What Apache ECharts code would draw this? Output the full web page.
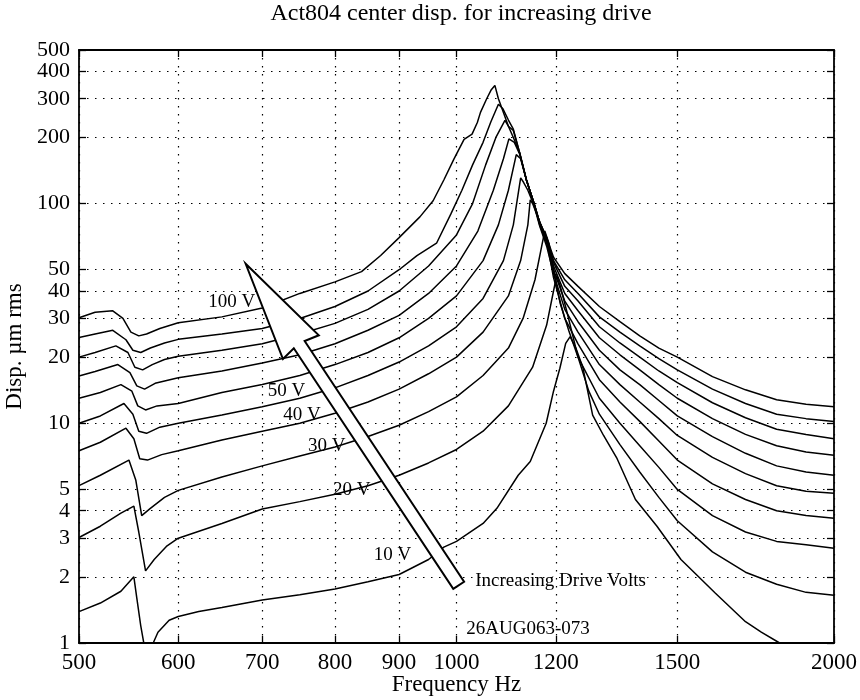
<!DOCTYPE html>
<html><head><meta charset="utf-8">
<script src="https://cdn.jsdelivr.net/npm/echarts@6/dist/echarts.min.js"></script>
<style>html,body{margin:0;padding:0;background:#fff}#c{width:860px;height:700px}</style>
</head><body><div id="c"></div>
<script>
const xTicks = [500,600,700,800,900,1000,1200,1500,2000];
const yTicks = [1,2,3,4,5,10,20,30,40,50,100,200,300,400,500];

const f100 = [500,515,532,542,550,558,566,580,600,650,700,750,800,840,870,900,935,958,977,995,1014,1029,1039,1045,1057,1066,1073,1080,1090,1100,1110,1123,1137,1153,1165,1180,1195,1220,1250,1300,1350,1400,1450,1500,1600,1700,1800,1900,2000];
const v100 = [30.2,32,32.5,30,26,25,25.5,27,28.7,30.5,33.5,39,44,49,58,70,87,103,128,159,196,207,234,260,300,330,345,300,260,225,200,170,128,100,82,70,57,48,42,34,29,25,22,20,16.3,14.2,12.8,12.2,11.9];

const f90 = [500,515,532,545,552,560,570,585,600,650,700,750,800,850,900,930,964,990,1010,1030,1050,1065,1080,1089,1100,1110,1123,1137,1153,1165,1180,1195,1220,1250,1300,1350,1400,1450,1500,1600,1700,1800,1900,2000];
const v90 = [24.6,25.5,26.5,24,21.5,21,22,23.2,24.1,25.5,27,30,34,40,50,58,66,90,115,150,190,235,283,270,240,218,170,128,100,82,70,55,45,39,30.5,26,22.5,19.7,17.5,14.3,12.3,11,10.5,10.2];

const f80 = [500,515,535,547,554,562,572,585,600,650,700,750,800,850,900,950,1000,1030,1055,1075,1093,1100,1110,1123,1137,1153,1165,1180,1195,1220,1250,1300,1350,1400,1450,1500,1600,1700,1800,1900,2000];
const v80 = [20,21,22.5,21,18,17.5,18.5,19.5,20.2,21.5,23,25.5,28.5,33,40,52,72,100,150,200,239,225,215,170,128,100,82,69,54,42,36,27.5,23.2,20,17.3,15.3,12.4,10.6,9.4,8.9,8.5];

const f70 = [500,515,537,549,556,564,575,600,650,700,750,800,850,900,950,1000,1040,1070,1090,1101,1112,1123,1137,1153,1165,1180,1195,1220,1250,1300,1350,1400,1450,1500,1600,1700,1800,1900,2000];
const v70 = [16.4,17.2,18.5,17,14.8,14.3,15.2,16.1,17.3,18.8,20.5,23,26.5,31,39,52,75,115,160,197,190,168,128,100,81,68,52,39,32.5,24.5,20.5,17.5,15,13,10.5,8.9,7.9,7.4,7.15];

const f60 = [500,520,540,551,557,565,577,600,650,700,750,800,850,900,950,1000,1050,1080,1100,1116,1125,1137,1153,1165,1180,1195,1220,1250,1300,1350,1400,1450,1500,1600,1700,1800,1900,2000];
const v60 = [13,13.8,15,14,12,11.5,12,12.3,13.8,15,16.5,18.5,21,24.5,30,38,55,80,115,167,160,128,100,80,66,50,36,29,21.5,17.5,15,12.7,10.8,8.7,7.3,6.4,6.0,5.8];

const f50 = [500,520,543,552,558,566,580,600,650,700,750,800,850,900,950,1000,1050,1090,1110,1125,1131,1140,1153,1165,1180,1195,1220,1250,1300,1350,1400,1450,1500,1600,1700,1800,1900,2000];
const v50 = [10,10.8,12.3,11,9.2,9,9.6,10,10.9,11.9,13,14.5,16.5,19,22.5,27.5,37,55,80,131,125,115,98,79,64,48,33,26,18.5,15,12.5,10.5,8.8,7.0,5.9,5.2,4.9,4.8];

const f40 = [500,520,545,553,559,567,582,600,650,700,750,800,850,900,950,1000,1050,1100,1125,1140,1145,1150,1160,1170,1180,1195,1220,1250,1300,1350,1400,1450,1500,1600,1700,1800,1900,2000];
const v40 = [7.5,8.2,9.5,8.5,6.9,6.8,7.2,7.5,8.4,9.2,10,11.1,12.5,14.3,16.8,20,26,38,55,80,104,100,88,78,68,46,30,23,15.8,12.5,10.2,8.3,6.8,5.3,4.5,4.0,3.8,3.7];

const f30 = [500,520,548,555,561,570,585,600,650,700,750,800,850,900,950,1000,1050,1100,1130,1155,1170,1176,1185,1195,1210,1230,1250,1300,1350,1400,1450,1500,1600,1700,1800,1900,2000];
const v30 = [5.2,5.8,6.8,5.5,3.8,4.1,4.6,4.95,5.7,6.4,7.1,7.8,8.7,9.8,11.3,13.2,16.5,22,30,45,65,75,66,50,35,26,20,13,10,7.9,6.3,5.0,3.8,3.2,2.9,2.8,2.7];

const f20 = [500,520,540,553,558,565,574,587,600,650,700,750,800,850,900,950,1000,1050,1100,1150,1180,1195,1202,1210,1225,1250,1275,1300,1350,1400,1450,1500,1600,1700,1800,1900,2000];
const v20 = [3.02,3.4,3.9,4.2,3.2,2.13,2.4,2.75,3.0,3.5,4.07,4.4,4.75,5.2,5.8,6.6,7.6,9.2,12,18,28,40,47,42,32,20,14,11,8,6,4.6,3.6,2.6,2.1,1.85,1.7,1.65];

const f10 = [500,520,540,553,556,560,565,570,573,578,590,600,623,650,700,750,800,850,900,950,977,1000,1050,1077,1120,1145,1179,1195,1209,1222,1232,1245,1261,1284,1310,1343,1389,1445,1510,1608,1700,1750,1810,1850];
const v10 = [1.39,1.52,1.72,2.0,1.6,1.2,0.9,0.9,1.0,1.12,1.27,1.32,1.39,1.45,1.57,1.66,1.76,1.9,2.05,2.4,2.73,2.9,3.5,4.1,5.8,6.7,10,14,17.8,23.1,24.8,22,18,10.9,8.8,6.9,4.5,3.4,2.4,1.69,1.25,1.12,1.0,0.9];

const curveFreqs = [f10,f20,f30,f40,f50,f60,f70,f80,f90,f100];
const curveVals  = [v10,v20,v30,v40,v50,v60,v70,v80,v90,v100];
const curveNames = ['10 V','20 V','30 V','40 V','50 V','60 V','70 V','80 V','90 V','100 V'];

const labelTexts = ['100 V','50 V','40 V','30 V','20 V','10 V'];
const labelFreqs = [662,732,753,788,825,889];
const labelVals  = [35.5,14.0,10.9,7.84,4.98,2.51];

const noteTexts = ['Increasing Drive Volts','26AUG063-073'];
const noteFreqs = [1035,1018];
const noteVals  = [1.92,1.16];

const arrowTail = [1004,1.83];
const arrowTip  = [679,53.2];

const FONT = 'Liberation Serif';
const chart = echarts.init(document.getElementById('c'), null, {renderer:'canvas'});

const series = curveNames.map((n,i)=>({
  name:n, type:'line', showSymbol:false, symbol:'none', clip:true, animation:false,
  lineStyle:{color:'#000', width:1.5},
  data: curveFreqs[i].map((f,j)=>[f, curveVals[i][j]])
}));

const axisCommon = {
  axisLine:{show:true, lineStyle:{color:'#000', width:1.8}},
};

chart.setOption({
  animation:false,
  backgroundColor:'#fff',
  title:{text:'Act804 center disp. for increasing drive', left:456, top:-3, textAlign:'center',
    textStyle:{fontFamily:FONT, fontSize:24, fontWeight:'normal', color:'#000'}},
  grid:{left:79, right:26, top:50, bottom:57, containLabel:false, outerBoundsMode:'none'},
  xAxis:[{
    type:'log', logBase:10, min:500, max:2000, position:'bottom',
    name:'Frequency Hz', nameLocation:'middle', nameGap:30, nameMoveOverlap:false,
    nameTextStyle:{fontFamily:FONT, fontSize:23, color:'#000'},
    ...axisCommon,
    axisTick:{show:true, inside:true, length:7, customValues:xTicks, lineStyle:{color:'#000', width:1.3}},
    axisLabel:{show:true, customValues:xTicks, formatter:v=>String(Math.round(v)), fontFamily:FONT, fontSize:23, lineHeight:16, color:'#000', margin:12, showMinLabel:true, showMaxLabel:true, hideOverlap:false},
    splitLine:{show:true, lineStyle:{color:'#000', width:1.2, type:[1.5,6.5]}},
    minorTick:{show:false}, minorSplitLine:{show:false}
  },{
    type:'log', logBase:10, min:500, max:2000, position:'top',
    ...axisCommon,
    axisTick:{show:true, inside:true, length:7, customValues:xTicks, lineStyle:{color:'#000', width:1.3}},
    axisLabel:{show:false}, splitLine:{show:false}
  }],
  yAxis:[{
    type:'log', logBase:10, min:1, max:500, position:'left',
    name:'Disp. \u00b5m rms', nameLocation:'middle', nameGap:53, nameRotate:90, nameMoveOverlap:false,
    nameTextStyle:{fontFamily:FONT, fontSize:23, color:'#000'},
    ...axisCommon,
    axisTick:{show:true, inside:true, length:7, customValues:yTicks, lineStyle:{color:'#000', width:1.3}},
    axisLabel:{show:false},
    splitLine:{show:true, lineStyle:{color:'#000', width:1.2, type:[1.5,6.5]}},
    minorTick:{show:false}, minorSplitLine:{show:false}
  },{
    type:'log', logBase:10, min:1, max:500, position:'right',
    ...axisCommon,
    axisTick:{show:true, inside:true, length:7, customValues:yTicks, lineStyle:{color:'#000', width:1.3}},
    axisLabel:{show:false}, splitLine:{show:false}
  }],
  series: series
});

function px(p){ return chart.convertToPixel({xAxisIndex:0, yAxisIndex:0}, p); }

const tail = px(arrowTail), tip = px(arrowTip);
const dx = tip[0]-tail[0], dy = tip[1]-tail[1];
const L = Math.hypot(dx,dy);
const ux = dx/L, uy = dy/L, nx = -uy, ny = ux;
const P = (a,b)=>[tail[0]+ux*a+nx*b, tail[1]+uy*a+ny*b];
const arrowPts = [P(0,-6.5),P(0,6.5),P(L-97,6.5),P(L-100,21.5),P(L,0),P(L-100,-21.5),P(L-97,-6.5)];

const graphics = [{
  type:'polygon', shape:{points:arrowPts}, z:100,
  style:{fill:'#fff', stroke:'#000', lineWidth:2, lineJoin:'miter'}
}];
// y tick labels (drawn as text at the axis's own pixel positions)
yTicks.forEach(v=>{
  const p = px([500, v]);
  graphics.push({type:'text', x:p[0]-9, y:p[1], z:101,
    style:{text:String(v), fontFamily:FONT, fontSize:22, fill:'#000', align:'right', verticalAlign:'middle'}});
});
labelTexts.forEach((t,i)=>{
  const p = px([labelFreqs[i], labelVals[i]]);
  graphics.push({type:'text', x:p[0], y:p[1], z:101,
    style:{text:t, fontFamily:FONT, fontSize:19, fill:'#000', align:'center', verticalAlign:'middle'}});
});
noteTexts.forEach((t,i)=>{
  const p = px([noteFreqs[i], noteVals[i]]);
  graphics.push({type:'text', x:p[0], y:p[1], z:101,
    style:{text:t, fontFamily:FONT, fontSize:19, fill:'#000', align:'left', verticalAlign:'middle'}});
});
chart.setOption({graphic:graphics});
</script></body></html>
